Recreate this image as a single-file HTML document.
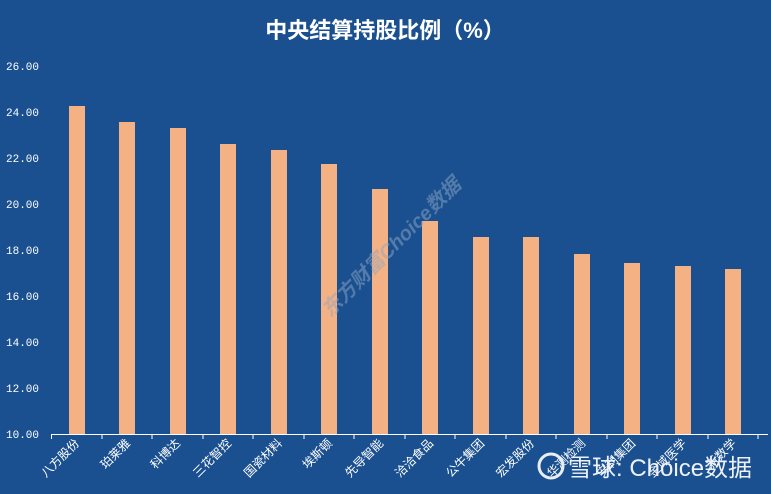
<!DOCTYPE html>
<html><head><meta charset="utf-8"><style>
body{margin:0;background:#1a5090;}
svg{display:block;font-family:"Liberation Sans","Noto Sans CJK SC",sans-serif;}
</style></head><body>
<svg width="771" height="494" viewBox="0 0 771 494">
<rect width="771" height="494" fill="#1a5090"/>
<text x="385" y="38" text-anchor="middle" fill="#fff" font-size="22" font-weight="bold">中央结算持股比例（%）</text>
<g fill="#fff" font-size="11" font-family="'Liberation Mono',monospace">
<text x="6" y="70">26.00</text><text x="6" y="116">24.00</text><text x="6" y="162">22.00</text>
<text x="6" y="208">20.00</text><text x="6" y="254">18.00</text><text x="6" y="300">16.00</text>
<text x="6" y="346">14.00</text><text x="6" y="392">12.00</text><text x="6" y="438">10.00</text>
</g>
<g fill="#f4b183">
<rect x="69" y="106" width="16" height="328"/>
<rect x="119" y="122" width="16" height="312"/>
<rect x="170" y="128" width="16" height="306"/>
<rect x="220" y="144" width="16" height="290"/>
<rect x="271" y="150" width="16" height="284"/>
<rect x="321" y="164" width="16" height="270"/>
<rect x="372" y="189" width="16" height="245"/>
<rect x="422" y="221" width="16" height="213"/>
<rect x="473" y="237" width="16" height="197"/>
<rect x="523" y="237" width="16" height="197"/>
<rect x="574" y="254" width="16" height="180"/>
<rect x="624" y="263" width="16" height="171"/>
<rect x="675" y="266" width="16" height="168"/>
<rect x="725" y="269" width="16" height="165"/>
</g>
<g stroke="#fff" stroke-width="1">
<line x1="51" y1="434.5" x2="768" y2="434.5"/>
<path d="M51.5 434v5M102 434v5M152 434v5M203 434v5M253 434v5M304 434v5M354 434v5M405 434v5M455 434v5M506 434v5M556 434v5M607 434v5M657 434v5M708 434v5M758 434v5"/>
</g>
<g fill="#fff" font-size="12" text-anchor="end">
<text transform="translate(80,444) rotate(-45)">八方股份</text>
<text transform="translate(131,444) rotate(-45)">珀莱雅</text>
<text transform="translate(181,444) rotate(-45)">科博达</text>
<text transform="translate(232,444) rotate(-45)">三花智控</text>
<text transform="translate(283,444) rotate(-45)">国瓷材料</text>
<text transform="translate(333,444) rotate(-45)">埃斯顿</text>
<text transform="translate(384,444) rotate(-45)">先导智能</text>
<text transform="translate(434,444) rotate(-45)">洽洽食品</text>
<text transform="translate(485,444) rotate(-45)">公牛集团</text>
<text transform="translate(535,444) rotate(-45)">宏发股份</text>
<text transform="translate(586,444) rotate(-45)">华测检测</text>
<text transform="translate(636,444) rotate(-45)">安利集团</text>
<text transform="translate(687,444) rotate(-45)">金域医学</text>
<text transform="translate(737,444) rotate(-45)">新数学</text>
</g>
<text transform="translate(330,318) rotate(-45)" fill="#8ea6c4" fill-opacity="0.5" font-size="20" font-style="italic" font-weight="bold">东方财富Choice数据</text>
<circle cx="551" cy="466" r="12" fill="none" stroke="#e8eef6" stroke-width="3"/>
<text x="568" y="476" fill="#eef2f8" font-size="24">雪球: Choice数据</text>
</svg>
</body></html>
